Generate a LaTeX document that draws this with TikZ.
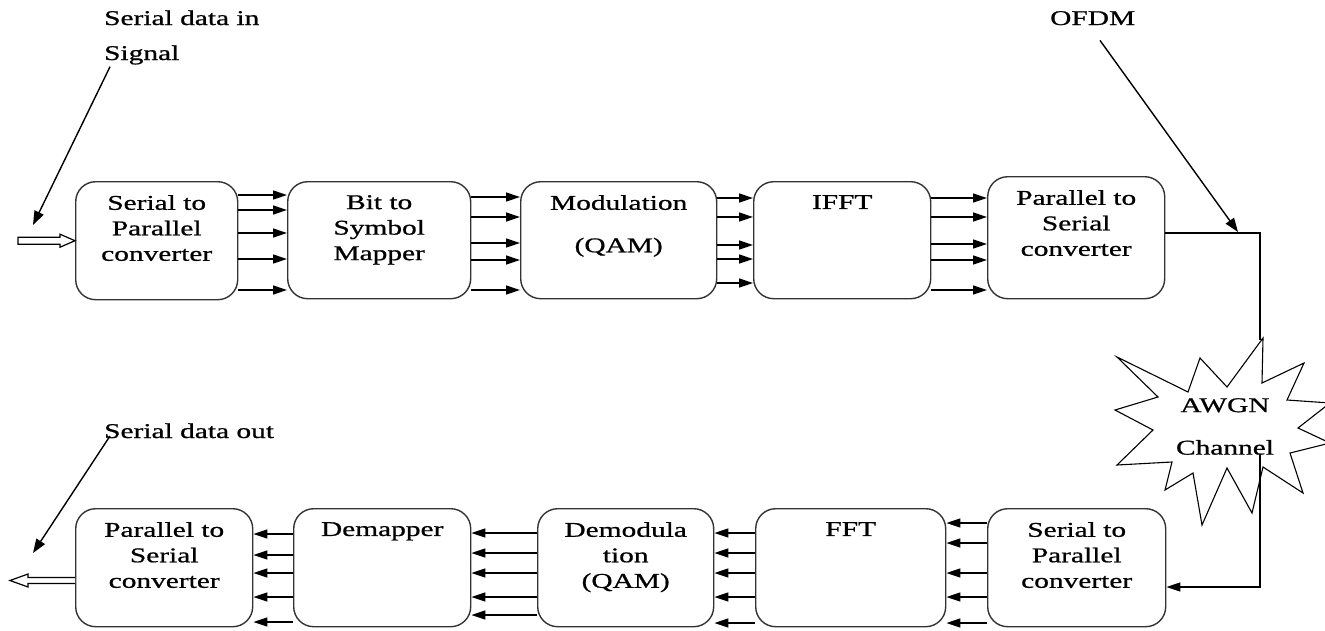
\documentclass[tikz,border=0pt]{standalone}
\usepackage{fontspec}
\setmainfont{Liberation Serif}[FakeStretch=1.4,FakeBold=0.8]
\usetikzlibrary{arrows.meta}
\tikzset{
  blk/.style={draw=black!80, line width=1.4pt, rounded corners=20pt, anchor=north west, inner sep=0pt},
  blktext/.style={anchor=north, inner sep=0pt, align=center},
  flow/.style={line width=1.4pt, -{Triangle[length=14pt,width=9pt]}},
  pointer/.style={line width=1.4pt, -{Triangle[length=14pt,width=10pt]}},
  hollow/.style={line width=1.2pt, fill=white},
  note/.style={anchor=base west, inner sep=0pt}
}

\begin{document}
\begin{tikzpicture}[x=1pt,y=-1pt,font=\fontsize{21}{25.5}\selectfont]
    \useasboundingbox (0,0) rectangle (1325,630);

    % transmitter chain
    \node[blk, minimum width=162pt, minimum height=118pt] (sp1) at (75,181) {};
    \node[blk, minimum width=183pt, minimum height=117pt] (map) at (287,181) {};
    \node[blk, minimum width=196pt, minimum height=117pt] (mod) at (520,181) {};
    \node[blk, minimum width=177pt, minimum height=117pt] (ifft) at (753,181) {};
    \node[blk, minimum width=177pt, minimum height=122pt] (ps1) at (987,176) {};

    \node[blktext] (sp1t) at ([yshift=-14pt]sp1.north) {Serial to\\Parallel\\converter};
    \node[blktext] (mapt) at ([yshift=-14pt]map.north) {Bit to\\Symbol\\Mapper};
    \node[blktext] (modt) at ([yshift=-14pt]mod.north) {Modulation\\[17pt](QAM)};
    \node[blktext] (ifftt) at ([yshift=-14pt]ifft.north) {IFFT};
    \node[blktext] (ps1t) at ([yshift=-14pt]ps1.north) {Parallel to\\Serial\\converter};

    % parallel lines between the blocks
    \foreach \y in {195,210,233,259,290}
        \draw[flow] (sp1.east |- 0,\y) -- (map.west |- 0,\y);
    \foreach \y in {197,217,243,260,290}
        \draw[flow] (map.east |- 0,\y) -- (mod.west |- 0,\y);
    \foreach \y in {198,217,245,259,283}
        \draw[flow] (mod.east |- 0,\y) -- (ifft.west |- 0,\y);
    \foreach \y in {198,217,244,260,290}
        \draw[flow] (ifft.east |- 0,\y) -- (ps1.west |- 0,\y);

    % receiver chain
    \node[blk, minimum width=177pt, minimum height=118pt] (ps2) at (75,508) {};
    \node[blk, minimum width=177pt, minimum height=118pt] (demap) at (293,508) {};
    \node[blk, minimum width=176pt, minimum height=118pt] (demod) at (537,508) {};
    \node[blk, minimum width=190pt, minimum height=118pt] (fft) at (755,508) {};
    \node[blk, minimum width=178pt, minimum height=118pt] (sp2) at (987,508) {};

    \node[blktext] (ps2t) at ([yshift=-14pt]ps2.north) {Parallel to\\Serial\\converter};
    \node[blktext] (demapt) at ([yshift=-14pt]demap.north) {Demapper};
    \node[blktext] (demodt) at ([yshift=-14pt]demod.north) {Demodula\\tion\\(QAM)};
    \node[blktext] (fftt) at ([yshift=-14pt]fft.north) {FFT};
    \node[blktext] (sp2t) at ([yshift=-14pt]sp2.north) {Serial to\\Parallel\\converter};

    \foreach \y in {523,543,573,597,623}
        \draw[flow] (sp2.west |- 0,\y) -- (fft.east |- 0,\y);
    \foreach \y in {533,553,573,597,623}
        \draw[flow] (fft.west |- 0,\y) -- (demod.east |- 0,\y);
    \foreach \y in {533,553,573,597,615}
        \draw[flow] (demod.west |- 0,\y) -- (demap.east |- 0,\y);
    \foreach \y in {534,555,573,597,622}
        \draw[flow] (demap.west |- 0,\y) -- (ps2.east |- 0,\y);

    % hollow in/out arrows
    \draw[hollow] (sp1.west) -- ++(-15,-6.5) -- ++(0,3) -- ++(-42,0) -- ++(0,7) -- ++(42,0) -- ++(0,3) -- cycle;
    \coordinate (pstail) at (ps2.west |- 0,580.5);
    \draw[hollow] ([yshift=3pt]pstail) -- ++(-47,0) -- ++(0,-3.5) -- ++(-18,6.5) -- ++(18,6.5) -- ++(0,-3.5) -- ++(47,0);

    % AWGN channel burst
    \draw[line width=1.1pt, fill=white] (1263,338) -- (1262,383) -- (1304,363) -- (1287,400) -- (1330,403)
        -- (1298,428) -- (1330,443) -- (1290,453) -- (1303,493) -- (1263,467) -- (1252,513)
        -- (1227,468) -- (1202,525) -- (1193,473) -- (1165,490) -- (1172,462) -- (1117,465)
        -- (1153,430) -- (1115,410) -- (1158,397) -- (1117,357) -- (1188,392) -- (1200,358)
        -- (1227,387) -- cycle;
    \node[blktext] (awgn) at (1225,398) {AWGN\\[17pt]Channel};

    % channel loop
    \coordinate (ch1) at (1260,233);
    \coordinate (awgntop) at (1260,340);
    \coordinate (awgnbot) at (1260,455);
    \coordinate (ch2) at (1260,587);
    \draw[line width=1.4pt] (ps1.east |- ch1) -- (ch1) -- (awgntop);
    \draw[flow] (awgnbot) -- (ch2) -- (sp2.east |- ch2);

    % annotations
    \node[note] (sdin) at (104,25) {Serial data in};
    \node[note] (sig) at (104,60) {Signal};
    \node[note] (sdout) at (104,438) {Serial data out};
    \node[note] (ofdm) at (1050,25) {OFDM};
    \coordinate (inpt) at (33,225);
    \coordinate (outpt) at (33,553);
    \coordinate (ofdmpt) at (1238,232);
    \draw[pointer] ([xshift=6pt,yshift=-2pt]sig.south west) -- (inpt);
    \draw[pointer] ([xshift=6pt,yshift=2pt]sdout.base west) -- (outpt);
    \draw[pointer] ([xshift=50pt,yshift=-15pt]ofdm.south west) -- (ofdmpt);
\end{tikzpicture}
\end{document}
